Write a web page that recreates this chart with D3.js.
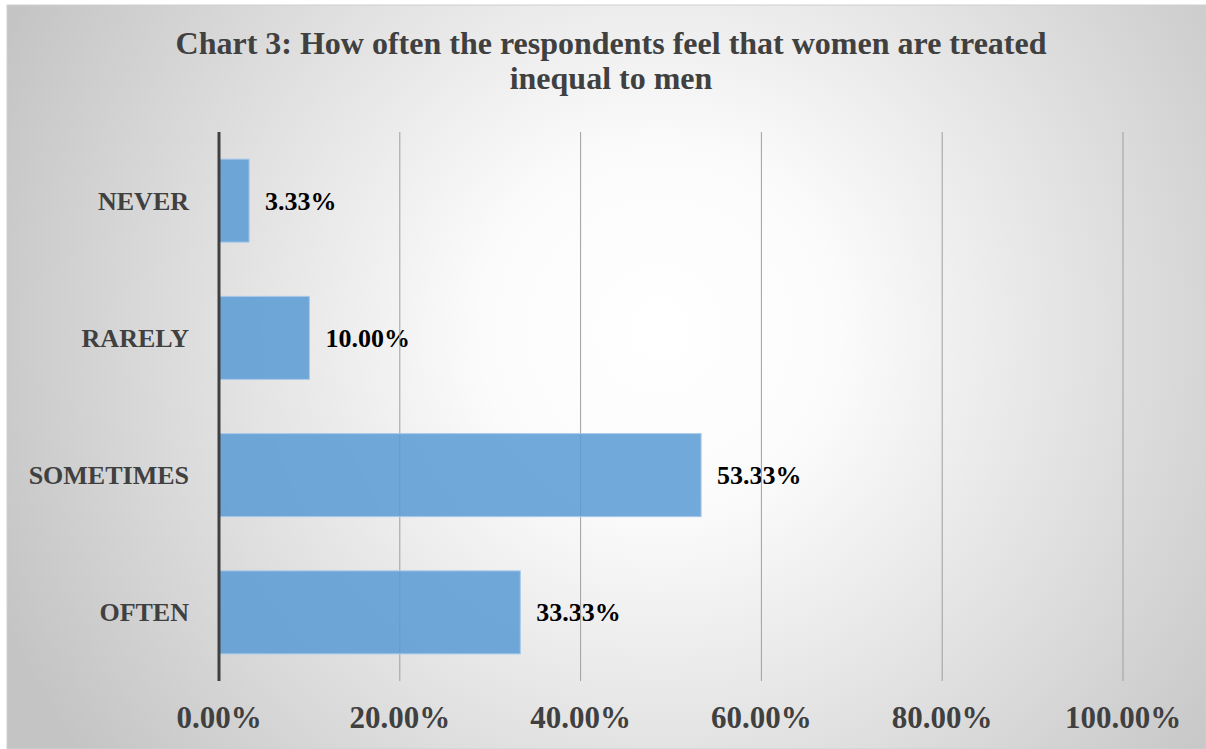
<!DOCTYPE html>
<html>
<head>
<meta charset="utf-8">
<script src="https://cdn.jsdelivr.net/npm/d3@7"></script>
<style>
  html, body { margin: 0; padding: 0; background: #ffffff; }
  svg { display: block; }
</style>
</head>
<body>
<svg id="chart" width="1206" height="749"></svg>
<script>
// Survey responses: how often women are felt to be treated unequally
const categories = ["NEVER", "RARELY", "SOMETIMES", "OFTEN"];
const values = [3.33, 10.00, 53.33, 33.33];
const tickValues = [0, 20, 40, 60, 80, 100];
const titleLines = ["Chart 3: How often the respondents feel that women are treated", "inequal to men"];

const W = 1206, H = 749;
const svg = d3.select("#chart");
const serif = "'Liberation Serif', 'Times New Roman', serif";

// Panel background with soft radial shading
const defs = svg.append("defs");
const grad = defs.append("radialGradient")
  .attr("id", "bg")
  .attr("gradientUnits", "userSpaceOnUse")
  .attr("cx", 660).attr("cy", 330).attr("r", 720);
grad.append("stop").attr("offset", 0).attr("stop-color", "#ffffff");
grad.append("stop").attr("offset", 0.25).attr("stop-color", "#fbfbfb");
grad.append("stop").attr("offset", 1).attr("stop-color", "#c4c4c4");

svg.append("rect")
  .attr("x", 7).attr("y", 5).attr("width", W - 7).attr("height", H - 5)
  .attr("fill", "url(#bg)")
  .attr("stroke", "#d0d0d0").attr("stroke-width", 1);

// Title
const title = svg.append("text")
  .attr("text-anchor", "middle")
  .attr("font-family", serif)
  .attr("font-weight", "bold")
  .attr("font-size", 32)
  .attr("fill", "#404040");
titleLines.forEach((line, i) => {
  title.append("tspan").attr("x", 611).attr("y", 54 + i * 35).text(line);
});

// Scales
const x = d3.scaleLinear().domain([0, 100]).range([219, 1123]);
const y = d3.scaleBand().domain(categories).range([132, 681])
  .paddingInner(0.395).paddingOuter(0.1975);

const plotTop = 132, plotBottom = 681;

// Value labels (sit beneath the gridlines)
svg.append("g").selectAll("text")
  .data(values)
  .join("text")
  .attr("x", d => x(d) + 16)
  .attr("y", (d, i) => y(categories[i]) + y.bandwidth() / 2)
  .attr("dy", "0.35em")
  .attr("font-family", serif)
  .attr("font-weight", "bold")
  .attr("font-size", 26)
  .attr("fill", "#000000")
  .text(d => d.toFixed(2) + "%");

// Vertical gridlines
svg.append("g").selectAll("line")
  .data(tickValues.slice(1))
  .join("line")
  .attr("x1", d => x(d)).attr("x2", d => x(d))
  .attr("y1", plotTop).attr("y2", plotBottom)
  .attr("stroke", "#9f9f9f").attr("stroke-width", 1);

// Bars
svg.append("g").selectAll("rect")
  .data(values)
  .join("rect")
  .attr("x", x(0))
  .attr("y", (d, i) => y(categories[i]))
  .attr("width", d => x(d) - x(0))
  .attr("height", y.bandwidth())
  .attr("fill", "#5b9bd5")
  .attr("fill-opacity", 0.86)
  .attr("stroke", "#a9c9ea")
  .attr("stroke-width", 1);

// Category axis line
svg.append("line")
  .attr("x1", x(0)).attr("x2", x(0))
  .attr("y1", plotTop).attr("y2", plotBottom)
  .attr("stroke", "#404040").attr("stroke-width", 3);

// Category labels
svg.append("g").selectAll("text")
  .data(categories)
  .join("text")
  .attr("x", 189)
  .attr("y", d => y(d) + y.bandwidth() / 2)
  .attr("dy", "0.35em")
  .attr("text-anchor", "end")
  .attr("font-family", serif)
  .attr("font-weight", "bold")
  .attr("font-size", 26)
  .attr("fill", "#404040")
  .text(d => d);

// Value axis tick labels
svg.append("g").selectAll("text")
  .data(tickValues)
  .join("text")
  .attr("x", d => x(d))
  .attr("y", 728)
  .attr("text-anchor", "middle")
  .attr("font-family", serif)
  .attr("font-weight", "bold")
  .attr("font-size", 31)
  .attr("fill", "#404040")
  .text(d => d.toFixed(2) + "%");
</script>
</body>
</html>
